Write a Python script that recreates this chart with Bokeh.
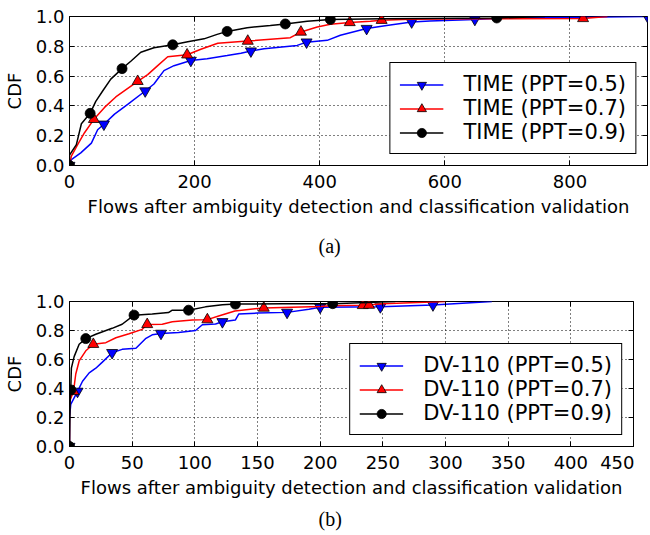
from bokeh.plotting import figure
from bokeh.models import (Range1d, FixedTicker, LinearAxis, Legend, LegendItem,
                          Title, PrintfTickFormatter)
from bokeh.layouts import column
from bokeh.embed import file_html
from bokeh.resources import INLINE

FONT = "DejaVu Sans"
XLABEL = "Flows after ambiguity detection and classification validation"
Y_TICKS = [0.0, 0.2, 0.4, 0.6, 0.8, 1.0]

# ---------------- (a) TIME ----------------
a_x_ticks = [0, 200, 400, 600, 800]
a_xmax = 924
a_labels = ["TIME (PPT=0.5)", "TIME (PPT=0.7)", "TIME (PPT=0.9)"]

a_blue_x = [0, 3, 18, 35, 45, 55, 72, 93, 121, 135, 151, 167, 194, 220, 252, 274, 290, 311,
            364, 379, 412, 433, 475, 507, 547, 576, 648, 700, 924]
a_blue_y = [0, 0.04, 0.085, 0.15, 0.24, 0.277, 0.345, 0.41, 0.50, 0.547, 0.637, 0.67, 0.705,
            0.716, 0.738, 0.754, 0.768, 0.784, 0.806, 0.828, 0.84, 0.874, 0.919, 0.94, 0.963,
            0.97, 0.98, 0.99, 1.0]
a_blue_mx = [0, 55, 121, 194, 290, 379, 475, 547, 648, 924]
a_blue_my = [0, 0.277, 0.50, 0.705, 0.768, 0.828, 0.919, 0.963, 0.98, 1.0]

a_red_x = [0, 3, 13, 24, 39, 56, 74, 109, 125, 141, 157, 188, 210, 237, 274, 285, 353, 370,
           396, 417, 448, 481, 499, 544, 650, 821, 860]
a_red_y = [0, 0.063, 0.14, 0.22, 0.31, 0.39, 0.46, 0.565, 0.61, 0.67, 0.73, 0.743, 0.78, 0.82,
           0.833, 0.835, 0.858, 0.896, 0.93, 0.948, 0.96, 0.968, 0.975, 0.982, 0.985, 0.987, 1.0]
a_red_mx = [0, 39, 109, 188, 285, 370, 448, 499, 821]
a_red_my = [0, 0.31, 0.565, 0.743, 0.835, 0.896, 0.96, 0.975, 0.987]

a_blk_x = [0, 0, 11, 19, 33, 42, 53, 66, 84, 98, 114, 135, 165, 189, 215, 236, 252, 284, 321,
           345, 380, 417, 500, 683, 760]
a_blk_y = [0, 0.07, 0.14, 0.28, 0.35, 0.43, 0.50, 0.58, 0.65, 0.70, 0.76, 0.79, 0.81, 0.83,
           0.85, 0.88, 0.90, 0.925, 0.94, 0.95, 0.968, 0.98, 0.985, 0.99, 1.0]
a_blk_mx = [0, 33, 84, 165, 252, 345, 417, 683]
a_blk_my = [0, 0.35, 0.65, 0.81, 0.90, 0.95, 0.98, 0.99]

# ---------------- (b) DV-110 ----------------
b_x_ticks = [0, 50, 100, 150, 200, 250, 300, 350, 400, 450]
b_xmax = 450
b_labels = ["DV-110 (PPT=0.5)", "DV-110 (PPT=0.7)", "DV-110 (PPT=0.9)"]

b_blue_x = [0, 0, 1, 6.4, 10.4, 15.7, 21, 26, 34, 42, 53, 61, 66, 73, 87, 100.6, 106, 116.5,
            122, 132.4, 135, 150, 173.6, 191, 200, 248, 290, 337]
b_blue_y = [0, 0.2, 0.29, 0.38, 0.45, 0.508, 0.54, 0.58, 0.647, 0.67, 0.677, 0.746, 0.77, 0.78,
            0.787, 0.80, 0.84, 0.845, 0.86, 0.873, 0.913, 0.92, 0.925, 0.947, 0.96, 0.963,
            0.976, 1.0]
b_blue_mx = [0, 6.4, 34, 73, 122, 173.6, 200, 248, 290]
b_blue_my = [0, 0.38, 0.647, 0.78, 0.86, 0.925, 0.96, 0.963, 0.976]

b_red_x = [0, 0, 3.2, 5, 7.7, 13, 19, 29, 37, 47.5, 58, 62, 74, 82, 98, 110, 119, 132, 148,
           155, 200, 208, 237, 250, 300]
b_red_y = [0, 0.31, 0.38, 0.50, 0.59, 0.66, 0.705, 0.716, 0.75, 0.778, 0.808, 0.842, 0.843,
           0.86, 0.872, 0.875, 0.90, 0.935, 0.95, 0.955, 0.965, 0.97, 0.975, 0.985, 1.0]
b_red_mx = [0, 3.2, 19, 62, 110, 155, 234, 239]
b_red_my = [0, 0.38, 0.705, 0.842, 0.875, 0.955, 0.973, 0.975]

b_blk_x = [0, 0.5, 1, 1.5, 3.7, 7.7, 13, 21, 34, 42, 51.5, 66, 79, 82, 95, 108.5, 122, 132.4,
           170, 210, 260]
b_blk_y = [0, 0.3, 0.39, 0.54, 0.62, 0.705, 0.744, 0.774, 0.815, 0.843, 0.906, 0.913, 0.924,
           0.94, 0.94, 0.963, 0.977, 0.982, 0.985, 0.985, 1.0]
b_blk_mx = [0, 1, 13, 51.5, 95, 132.4, 210]
b_blk_my = [0, 0.39, 0.744, 0.906, 0.94, 0.982, 0.985]

COLORS = ["#0000ff", "#ff0000", "#000000"]
MARKERS = ["inverted_triangle", "triangle", "circle"]
MSIZES = [11, 11, 10]


def make_fig(width, height, xmax, xticks, btop, bbottom, bright, caption, cap_standoff,
             cap_offset, series, labels):
    p = figure(width=width, height=height, output_backend="svg", toolbar_location=None,
               x_range=Range1d(0, xmax), y_range=Range1d(0, 1),
               min_border_left=68, min_border_right=bright,
               min_border_top=btop, min_border_bottom=bbottom)
    p.outline_line_color = "black"
    p.outline_line_alpha = 1
    p.outline_line_width = 1
    p.background_fill_color = "white"

    p.xaxis.ticker = FixedTicker(ticks=xticks)
    p.yaxis.ticker = FixedTicker(ticks=Y_TICKS)
    p.yaxis.formatter = PrintfTickFormatter(format="%.1f")
    for ax in (p.xaxis[0], p.yaxis[0]):
        ax.axis_line_color = "black"
        ax.major_tick_in = 5
        ax.major_tick_out = 0
        ax.major_tick_line_color = "black"
        ax.minor_tick_line_color = None
        ax.major_label_text_font = FONT
        ax.major_label_text_font_size = "18px"
        ax.major_label_text_color = "black"
        ax.axis_label_text_font = FONT
        ax.axis_label_text_font_size = "18px"
        ax.axis_label_text_font_style = "normal"
        ax.axis_label_text_color = "black"
    p.xaxis.axis_label = XLABEL
    p.yaxis.axis_label = "CDF"
    p.xaxis.major_label_standoff = 9
    p.xaxis.axis_label_standoff = 5
    p.yaxis.major_label_standoff = 5
    p.yaxis.axis_label_standoff = 8

    top = LinearAxis(ticker=FixedTicker(ticks=xticks), major_label_text_font_size="1px",
                     major_label_text_color=None, major_label_standoff=0,
                     major_tick_in=5, major_tick_out=0,
                     minor_tick_line_color=None, axis_line_color=None)
    right = LinearAxis(ticker=FixedTicker(ticks=Y_TICKS), major_label_text_font_size="1px",
                       major_label_text_color=None, major_label_standoff=0,
                       major_tick_in=5, major_tick_out=0,
                       minor_tick_line_color=None, axis_line_color=None)
    p.add_layout(top, "above")
    p.add_layout(right, "right")

    for g in (p.xgrid[0], p.ygrid[0]):
        g.grid_line_color = "black"
        g.grid_line_dash = "1 3"
        g.grid_line_width = 1
    p.xgrid.ticker = FixedTicker(ticks=xticks)
    p.ygrid.ticker = FixedTicker(ticks=Y_TICKS)

    items = []
    for (lx, ly, mx, my), col, mk, ms, lab in zip(series, COLORS, MARKERS, MSIZES, labels):
        r1 = p.line(lx, ly, line_color=col, line_width=1.5)
        r2 = p.scatter(mx, my, marker=mk, size=ms, fill_color=col, line_color="black",
                       line_width=0.8)
        items.append(LegendItem(label=lab, renderers=[r1, r2]))

    leg = Legend(items=items, location="bottom_right", margin=11, padding=9, spacing=0,
                 glyph_width=44, glyph_height=23, label_height=23, label_standoff=20,
                 label_text_font=FONT, label_text_font_size="21px",
                 label_text_color="black",
                 border_line_color="black", border_line_width=1, border_line_alpha=1,
                 background_fill_alpha=1)
    p.add_layout(leg)

    cap = Title(text=caption, align="left", offset=cap_offset,
                text_font="Liberation Serif", text_font_size="20px",
                text_font_style="normal", text_color="black", standoff=cap_standoff)
    p.add_layout(cap, "below")
    return p


pa = make_fig(648, 269, a_xmax, a_x_ticks, 16, 90, 1, "(a)", 26, 249,
              [(a_blue_x, a_blue_y, a_blue_mx, a_blue_my),
               (a_red_x, a_red_y, a_red_mx, a_red_my),
               (a_blk_x, a_blk_y, a_blk_mx, a_blk_my)], a_labels)
pb = make_fig(634, 266, b_xmax, b_x_ticks, 32, 80, 1, "(b)", 11, 249,
              [(b_blue_x, b_blue_y, b_blue_mx, b_blue_my),
               (b_red_x, b_red_y, b_red_mx, b_red_my),
               (b_blk_x, b_blk_y, b_blk_mx, b_blk_my)], b_labels)

layout = column(pa, pb, spacing=0)
open("out.html", "w").write(file_html(layout, INLINE))
